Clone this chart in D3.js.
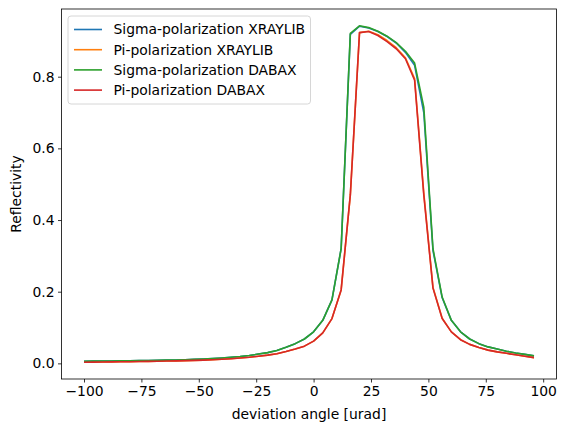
<!DOCTYPE html>
<html lang="en">
<head>
  <meta charset="UTF-8">
  <title>Reflectivity vs deviation angle</title>
  <script src="https://d3js.org/d3.v7.min.js"></script>
  <style>
    body { margin: 0; background: #fff; }
    text { font-family: "DejaVu Sans", sans-serif; fill: #000; }
  </style>
</head>
<body>
<div id="chart"></div>
<script>
  // deviation angles (urad), step 4
  const angles = [-100, -96, -92, -88, -84, -80, -76, -72, -68, -64, -60, -56, -52, -48, -44, -40, -36, -32, -28, -24,
    -20, -16, -12, -8, -4, 0, 4, 8, 12, 16, 20, 24, 28, 32, 36, 40, 44, 48, 52, 56,
    60, 64, 68, 72, 76, 80, 84, 88, 92, 96];

  const sigmaXraylib = [0.006, 0.0062, 0.0064, 0.0066, 0.0069, 0.0072, 0.0076, 0.008, 0.0085, 0.009, 0.0095, 0.010, 0.011, 0.012, 0.0135, 0.015, 0.017, 0.019, 0.022, 0.026,
    0.030, 0.036, 0.045, 0.055, 0.068, 0.088, 0.12, 0.177, 0.32, 0.918, 0.941, 0.936, 0.926, 0.912, 0.894, 0.868, 0.832, 0.70, 0.315, 0.183,
    0.12, 0.088, 0.068, 0.055, 0.046, 0.040, 0.034, 0.029, 0.025, 0.021];

  const piXraylib = [0.0033, 0.0035, 0.0038, 0.0041, 0.0044, 0.0047, 0.0051, 0.0055, 0.006, 0.0065, 0.007, 0.0076, 0.0083, 0.009, 0.010, 0.0115, 0.013, 0.015, 0.017, 0.020,
    0.023, 0.027, 0.033, 0.040, 0.048, 0.062, 0.085, 0.125, 0.205, 0.47, 0.923, 0.927, 0.917, 0.901, 0.881, 0.853, 0.795, 0.475, 0.212, 0.126,
    0.088, 0.066, 0.053, 0.044, 0.037, 0.032, 0.028, 0.024, 0.020, 0.016];

  const sigmaDabax = [0.006, 0.0062, 0.0064, 0.0066, 0.0069, 0.0072, 0.0076, 0.008, 0.0085, 0.009, 0.0095, 0.010, 0.011, 0.012, 0.0135, 0.015, 0.017, 0.019, 0.022, 0.026,
    0.030, 0.036, 0.045, 0.055, 0.068, 0.088, 0.12, 0.177, 0.32, 0.921, 0.942, 0.937, 0.927, 0.913, 0.895, 0.871, 0.838, 0.715, 0.32, 0.185,
    0.12, 0.088, 0.068, 0.055, 0.046, 0.040, 0.034, 0.029, 0.025, 0.021];

  const piDabax = [0.0033, 0.0035, 0.0038, 0.0041, 0.0044, 0.0047, 0.0051, 0.0055, 0.006, 0.0065, 0.007, 0.0076, 0.0083, 0.009, 0.010, 0.0115, 0.013, 0.015, 0.017, 0.020,
    0.023, 0.027, 0.033, 0.040, 0.048, 0.062, 0.085, 0.125, 0.205, 0.47, 0.923, 0.926, 0.915, 0.898, 0.878, 0.85, 0.79, 0.47, 0.21, 0.125,
    0.088, 0.066, 0.053, 0.044, 0.037, 0.032, 0.028, 0.024, 0.020, 0.016];

  const seriesNames = ["Sigma-polarization XRAYLIB", "Pi-polarization XRAYLIB", "Sigma-polarization DABAX", "Pi-polarization DABAX"];
  const seriesValues = [sigmaXraylib, piXraylib, sigmaDabax, piDabax];
  const xTicks = [-100, -75, -50, -25, 0, 25, 50, 75, 100];
  const yTicks = [0.0, 0.2, 0.4, 0.6, 0.8];

  const width = 567, height = 432;
  const plotLeft = 61.5, plotRight = 556.5, plotTop = 9, plotBottom = 379;
  const colors = ["#1f77b4", "#ff7f0e", "#2ca02c", "#d62728"];
  const fontSize = "13.9px";

  // matplotlib-like 5% margins
  const xMin = d3.min(angles), xMax = d3.max(angles);
  const allY = seriesValues.flat();
  const yMin = d3.min(allY), yMax = d3.max(allY);
  const xPad = (xMax - xMin) * 0.05, yPad = (yMax - yMin) * 0.05;

  const x = d3.scaleLinear().domain([xMin - xPad, xMax + xPad]).range([plotLeft, plotRight]);
  const y = d3.scaleLinear().domain([yMin - yPad, yMax + yPad]).range([plotBottom, plotTop]);

  const svg = d3.select("#chart").append("svg")
    .attr("width", width)
    .attr("height", height);

  const line = d3.line()
    .x((d, i) => x(angles[i]))
    .y(d => y(d));

  svg.append("g")
    .selectAll("path")
    .data(seriesValues)
    .enter()
    .append("path")
    .attr("d", line)
    .attr("fill", "none")
    .attr("stroke", (d, i) => colors[i])
    .attr("stroke-width", 1.6)
    .attr("stroke-linejoin", "round");

  // axes
  const xAxis = svg.append("g")
    .attr("transform", `translate(0,${plotBottom})`)
    .call(d3.axisBottom(x).tickValues(xTicks).tickSize(3.5).tickPadding(3.5).tickFormat(d => d < 0 ? "\u2212" + Math.abs(d) : d));
  const yAxis = svg.append("g")
    .attr("transform", `translate(${plotLeft},0)`)
    .call(d3.axisLeft(y).tickValues(yTicks).tickSize(3.5).tickPadding(3.5).tickFormat(d3.format(".1f")));

  [xAxis, yAxis].forEach(g => {
    g.select(".domain").remove();
    g.selectAll("line").attr("stroke", "#000").attr("stroke-width", 0.8);
    g.selectAll("text").style("font-size", fontSize).style("font-family", "DejaVu Sans");
  });

  // frame
  svg.append("rect")
    .attr("x", plotLeft).attr("y", plotTop)
    .attr("width", plotRight - plotLeft).attr("height", plotBottom - plotTop)
    .attr("fill", "none")
    .attr("stroke", "#000")
    .attr("stroke-width", 0.8);

  // axis labels
  svg.append("text")
    .attr("x", (plotLeft + plotRight) / 2)
    .attr("y", 419)
    .attr("text-anchor", "middle")
    .style("font-size", fontSize)
    .text("deviation angle [urad]");

  svg.append("text")
    .attr("transform", `translate(21,${(plotTop + plotBottom) / 2}) rotate(-90)`)
    .attr("text-anchor", "middle")
    .style("font-size", fontSize)
    .text("Reflectivity");

  // legend
  const legend = svg.append("g").attr("transform", "translate(68,16)");
  legend.append("rect")
    .attr("width", 242.5)
    .attr("height", 88)
    .attr("rx", 3)
    .attr("fill", "#fff")
    .attr("fill-opacity", 0.8)
    .attr("stroke", "#ccc")
    .attr("stroke-width", 0.8);

  const items = legend.selectAll(".item")
    .data(seriesNames)
    .enter()
    .append("g")
    .attr("class", "item")
    .attr("transform", (d, i) => `translate(0,${13.5 + i * 20.2})`);

  items.append("line")
    .attr("x1", 6).attr("x2", 34)
    .attr("stroke", (d, i) => colors[i])
    .attr("stroke-width", 1.6);

  items.append("text")
    .attr("x", 45.5)
    .attr("dy", "0.35em")
    .style("font-size", fontSize)
    .text(d => d);
</script>
</body>
</html>
